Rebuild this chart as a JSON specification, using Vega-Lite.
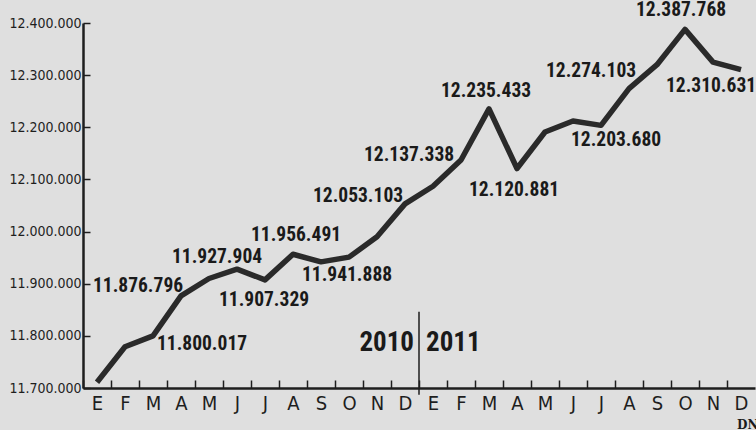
{
  "$schema": "https://vega.github.io/schema/vega-lite/v6.json",
  "width": 672,
  "height": 365,
  "autosize": "none",
  "padding": {"left": 83, "top": 23, "right": 1, "bottom": 42},
  "background": "#dfdfdf",
  "config": {
    "view": {"stroke": null},
    "text": {"font": "Roboto Condensed, Liberation Sans Narrow, Liberation Sans, sans-serif", "fontSize": 19.5, "fontWeight": "bold", "color": "#1a1a1a", "baseline": "middle", "align": "center"}
  },
  "data": {"values": [
    {"fecha": "2010-01", "valor": 11711000},
    {"fecha": "2010-02", "valor": 11779000},
    {"fecha": "2010-03", "valor": 11800017},
    {"fecha": "2010-04", "valor": 11876796},
    {"fecha": "2010-05", "valor": 11910000},
    {"fecha": "2010-06", "valor": 11927904},
    {"fecha": "2010-07", "valor": 11907329},
    {"fecha": "2010-08", "valor": 11956491},
    {"fecha": "2010-09", "valor": 11941888},
    {"fecha": "2010-10", "valor": 11951000},
    {"fecha": "2010-11", "valor": 11990000},
    {"fecha": "2010-12", "valor": 12053103},
    {"fecha": "2011-01", "valor": 12087000},
    {"fecha": "2011-02", "valor": 12137338},
    {"fecha": "2011-03", "valor": 12235433},
    {"fecha": "2011-04", "valor": 12120881},
    {"fecha": "2011-05", "valor": 12191000},
    {"fecha": "2011-06", "valor": 12212000},
    {"fecha": "2011-07", "valor": 12203680},
    {"fecha": "2011-08", "valor": 12274103},
    {"fecha": "2011-09", "valor": 12320000},
    {"fecha": "2011-10", "valor": 12387768},
    {"fecha": "2011-11", "valor": 12325000},
    {"fecha": "2011-12", "valor": 12310631}
  ]},
  "transform": [{"calculate": "replace(format(datum.valor, ','), regexp(',', 'g'), '.')", "as": "etiqueta"}],
  "encoding": {
    "x": {
      "field": "fecha", "type": "ordinal",
      "scale": {"type": "point", "padding": 0.5},
      "axis": {
        "title": null, "labelAngle": 0,
        "labelExpr": "['E','F','M','A','M','J','J','A','S','O','N','D'][toNumber(slice(datum.value, 5)) - 1]",
        "labelFont": "DejaVu Sans Condensed, sans-serif", "labelFontSize": 20, "labelColor": "#1e1e1e",
        "labelPadding": 13, "labelOffset": 14, "tickSize": -8, "tickOffset": -14, "tickColor": "#1e1e1e", "tickWidth": 1.5,
        "domainColor": "#1e1e1e", "domainWidth": 2.5
      }
    },
    "y": {
      "field": "valor", "type": "quantitative",
      "scale": {"domain": [11700000, 12400000], "nice": false, "zero": false},
      "axis": {
        "title": null, "grid": false,
        "labelExpr": "replace(format(datum.value, ','), regexp(',', 'g'), '.')",
        "values": [11700000, 11800000, 11900000, 12000000, 12100000, 12200000, 12300000, 12400000],
        "labelFont": "DejaVu Sans Condensed, sans-serif", "labelFontSize": 14, "labelColor": "#1e1e1e",
        "labelPadding": 9, "tickSize": -7, "tickColor": "#1e1e1e", "tickWidth": 1.5,
        "domainColor": "#1e1e1e", "domainWidth": 2.5
      }
    }
  },
  "layer": [
    {"mark": {"type": "line", "color": "#2a2a2a", "strokeWidth": 5.5, "strokeJoin": "round"}},
    {
      "transform": [{"filter": "datum.fecha == '2010-12'"}],
      "mark": {"type": "rule", "color": "#1e1e1e", "strokeWidth": 1.5, "xOffset": 14},
      "encoding": {"y": {"datum": 11846000}, "y2": {"datum": 11687000}}
    },
    {
      "transform": [{"filter": "datum.fecha == '2010-12'"}],
      "mark": {"type": "text", "text": "2010", "fontSize": 27, "align": "right", "dx": 9},
      "encoding": {"y": {"datum": 11786000}}
    },
    {
      "transform": [{"filter": "datum.fecha == '2010-12'"}],
      "mark": {"type": "text", "text": "2011", "fontSize": 27, "align": "left", "dx": 21},
      "encoding": {"y": {"datum": 11786000}}
    },
    {
      "transform": [{"filter": "datum.fecha == '2011-12'"}],
      "mark": {"type": "text", "text": "DN", "font": "DejaVu Serif, Liberation Serif, serif", "fontSize": 12, "align": "left", "dx": -4, "dy": 37},
      "encoding": {"y": {"datum": 11700000}}
    },
    {"transform": [{"filter": "datum.fecha == '2010-03'"}], "mark": {"type": "text", "dx": 49, "dy": 8}, "encoding": {"text": {"field": "etiqueta"}}},
    {"transform": [{"filter": "datum.fecha == '2010-04'"}], "mark": {"type": "text", "dx": -43, "dy": -10}, "encoding": {"text": {"field": "etiqueta"}}},
    {"transform": [{"filter": "datum.fecha == '2010-06'"}], "mark": {"type": "text", "dx": -20, "dy": -12}, "encoding": {"text": {"field": "etiqueta"}}},
    {"transform": [{"filter": "datum.fecha == '2010-07'"}], "mark": {"type": "text", "dx": -1, "dy": 20}, "encoding": {"text": {"field": "etiqueta"}}},
    {"transform": [{"filter": "datum.fecha == '2010-08'"}], "mark": {"type": "text", "dx": 3, "dy": -19}, "encoding": {"text": {"field": "etiqueta"}}},
    {"transform": [{"filter": "datum.fecha == '2010-09'"}], "mark": {"type": "text", "dx": 26, "dy": 13}, "encoding": {"text": {"field": "etiqueta"}}},
    {"transform": [{"filter": "datum.fecha == '2010-12'"}], "mark": {"type": "text", "dx": -47, "dy": -8}, "encoding": {"text": {"field": "etiqueta"}}},
    {"transform": [{"filter": "datum.fecha == '2011-02'"}], "mark": {"type": "text", "dx": -52, "dy": -5}, "encoding": {"text": {"field": "etiqueta"}}},
    {"transform": [{"filter": "datum.fecha == '2011-03'"}], "mark": {"type": "text", "dx": -3, "dy": -18}, "encoding": {"text": {"field": "etiqueta"}}},
    {"transform": [{"filter": "datum.fecha == '2011-04'"}], "mark": {"type": "text", "dx": -3, "dy": 21}, "encoding": {"text": {"field": "etiqueta"}}},
    {"transform": [{"filter": "datum.fecha == '2011-07'"}], "mark": {"type": "text", "dx": 15, "dy": 15}, "encoding": {"text": {"field": "etiqueta"}}},
    {"transform": [{"filter": "datum.fecha == '2011-08'"}], "mark": {"type": "text", "dx": -38, "dy": -18}, "encoding": {"text": {"field": "etiqueta"}}},
    {"transform": [{"filter": "datum.fecha == '2011-10'"}], "mark": {"type": "text", "dx": -4, "dy": -19}, "encoding": {"text": {"field": "etiqueta"}}},
    {"transform": [{"filter": "datum.fecha == '2011-12'"}], "mark": {"type": "text", "dx": -30, "dy": 16}, "encoding": {"text": {"field": "etiqueta"}}}
  ]
}
